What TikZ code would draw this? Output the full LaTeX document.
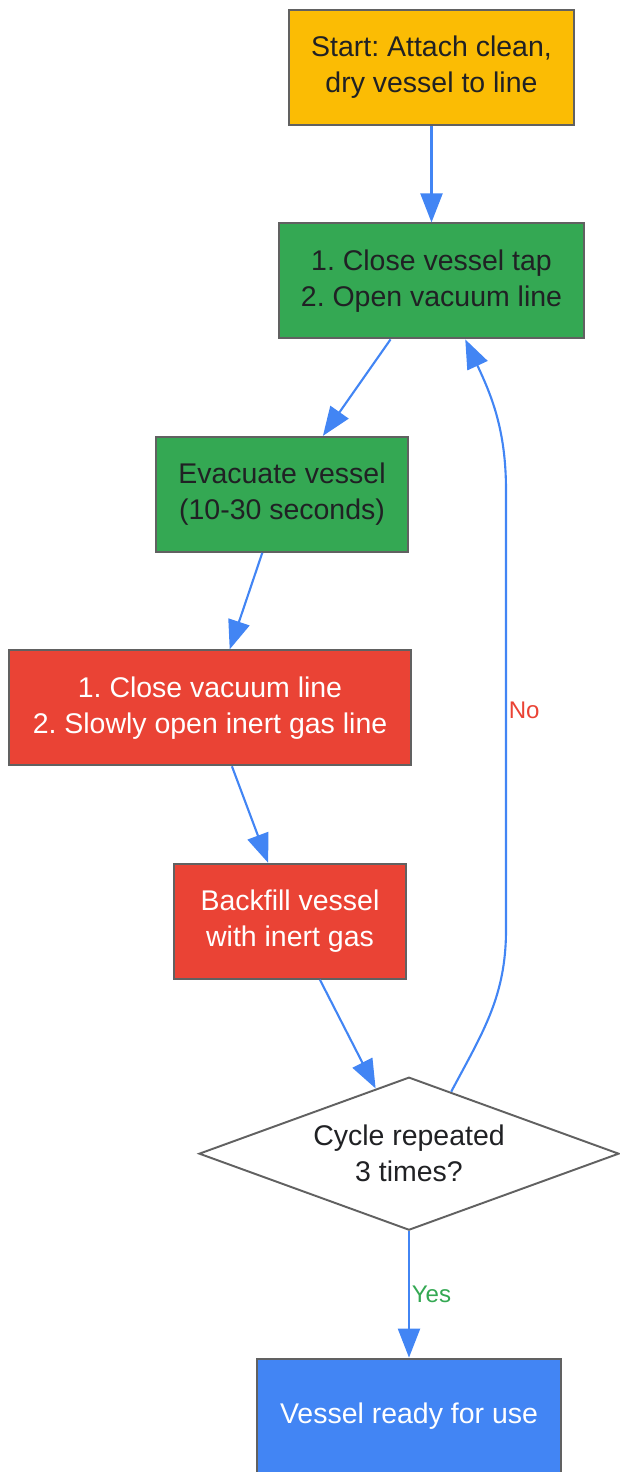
\documentclass[tikz,border=0pt]{standalone}
\usepackage{xcolor}
\usepackage{fontspec}
\setmainfont{Liberation Sans}
\usetikzlibrary{shapes.geometric, arrows.meta, positioning, calc}

\definecolor{gyellow}{HTML}{FBBC04}
\definecolor{ggreen}{HTML}{34A853}
\definecolor{gred}{HTML}{EA4335}
\definecolor{gblue}{HTML}{4285F4}
\definecolor{edgegray}{HTML}{616161}
\definecolor{darktext}{HTML}{202124}

\begin{document}
\frenchspacing
\begin{tikzpicture}[
    node distance=1.93cm,
    font=\fontsize{16.2pt}{20.4pt}\selectfont,
    box/.style={rectangle, draw=edgegray, line width=1.1pt, minimum height=2.3cm, align=center, text=darktext},
    startbox/.style={box, fill=gyellow},
    vacbox/.style={box, fill=ggreen},
    gasbox/.style={box, fill=gred, text=white},
    donebox/.style={box, fill=gblue, text=white},
    check/.style={diamond, draw=edgegray, line width=1.1pt, fill=white, aspect=2.745, inner sep=0pt, minimum width=8.4cm, minimum height=3.06cm, align=center, text=darktext},
    arrow/.style={-{Triangle[length=0.58cm, width=0.44cm]}, draw=gblue, line width=1.2pt},
    lbl/.style={font=\fontsize{13.7pt}{16pt}\selectfont, inner sep=1pt}
]
\useasboundingbox (0,0) rectangle (12.38,-29.44);

\node[startbox, minimum width=5.7cm] (start) at (8.63,-1.35) {Start: Attach clean,\\dry vessel to line};
\node[vacbox, minimum width=6.1cm, below=of start] (tap) {1. Close vessel tap\\2. Open vacuum line};
\node[vacbox, minimum width=5.04cm, below=of tap, xshift=-2.99cm] (evac) {Evacuate vessel\\(10-30 seconds)};
\node[gasbox, minimum width=8.04cm, below=of evac, xshift=-1.44cm] (vacline) {1. Close vacuum line\\2. Slowly open inert gas line};
\node[gasbox, minimum width=4.64cm, below=of vacline, xshift=1.6cm] (backfill) {Backfill vessel\\with inert gas};
\node[check, below=of backfill, xshift=2.38cm] (cycle) {Cycle repeated\\3 times?};
\node[donebox, minimum width=6.08cm, below=2.53cm of cycle] (ready) {Vessel ready for use};

\coordinate (nolow) at (10.12,-18.6);
\coordinate (nohigh) at (10.12,-9.8);

\draw[arrow] (start) -- (tap);
\draw[arrow] (tap) -- (evac);
\draw[arrow] (evac) -- (vacline);
\draw[arrow] (vacline) -- (backfill);
\draw[arrow] (backfill) -- (cycle);
\draw[arrow] (cycle) -- node[lbl, right, text=ggreen] {Yes} (ready);
\draw[arrow] ($(cycle.north)!0.2!(cycle.east)$) to[out=62, in=-90] (nolow)
    -- node[lbl, right, text=gred] {No} (nohigh)
    to[out=90, in=-65] ($(tap.south)!0.22!(tap.south east)$);

\end{tikzpicture}
\end{document}
